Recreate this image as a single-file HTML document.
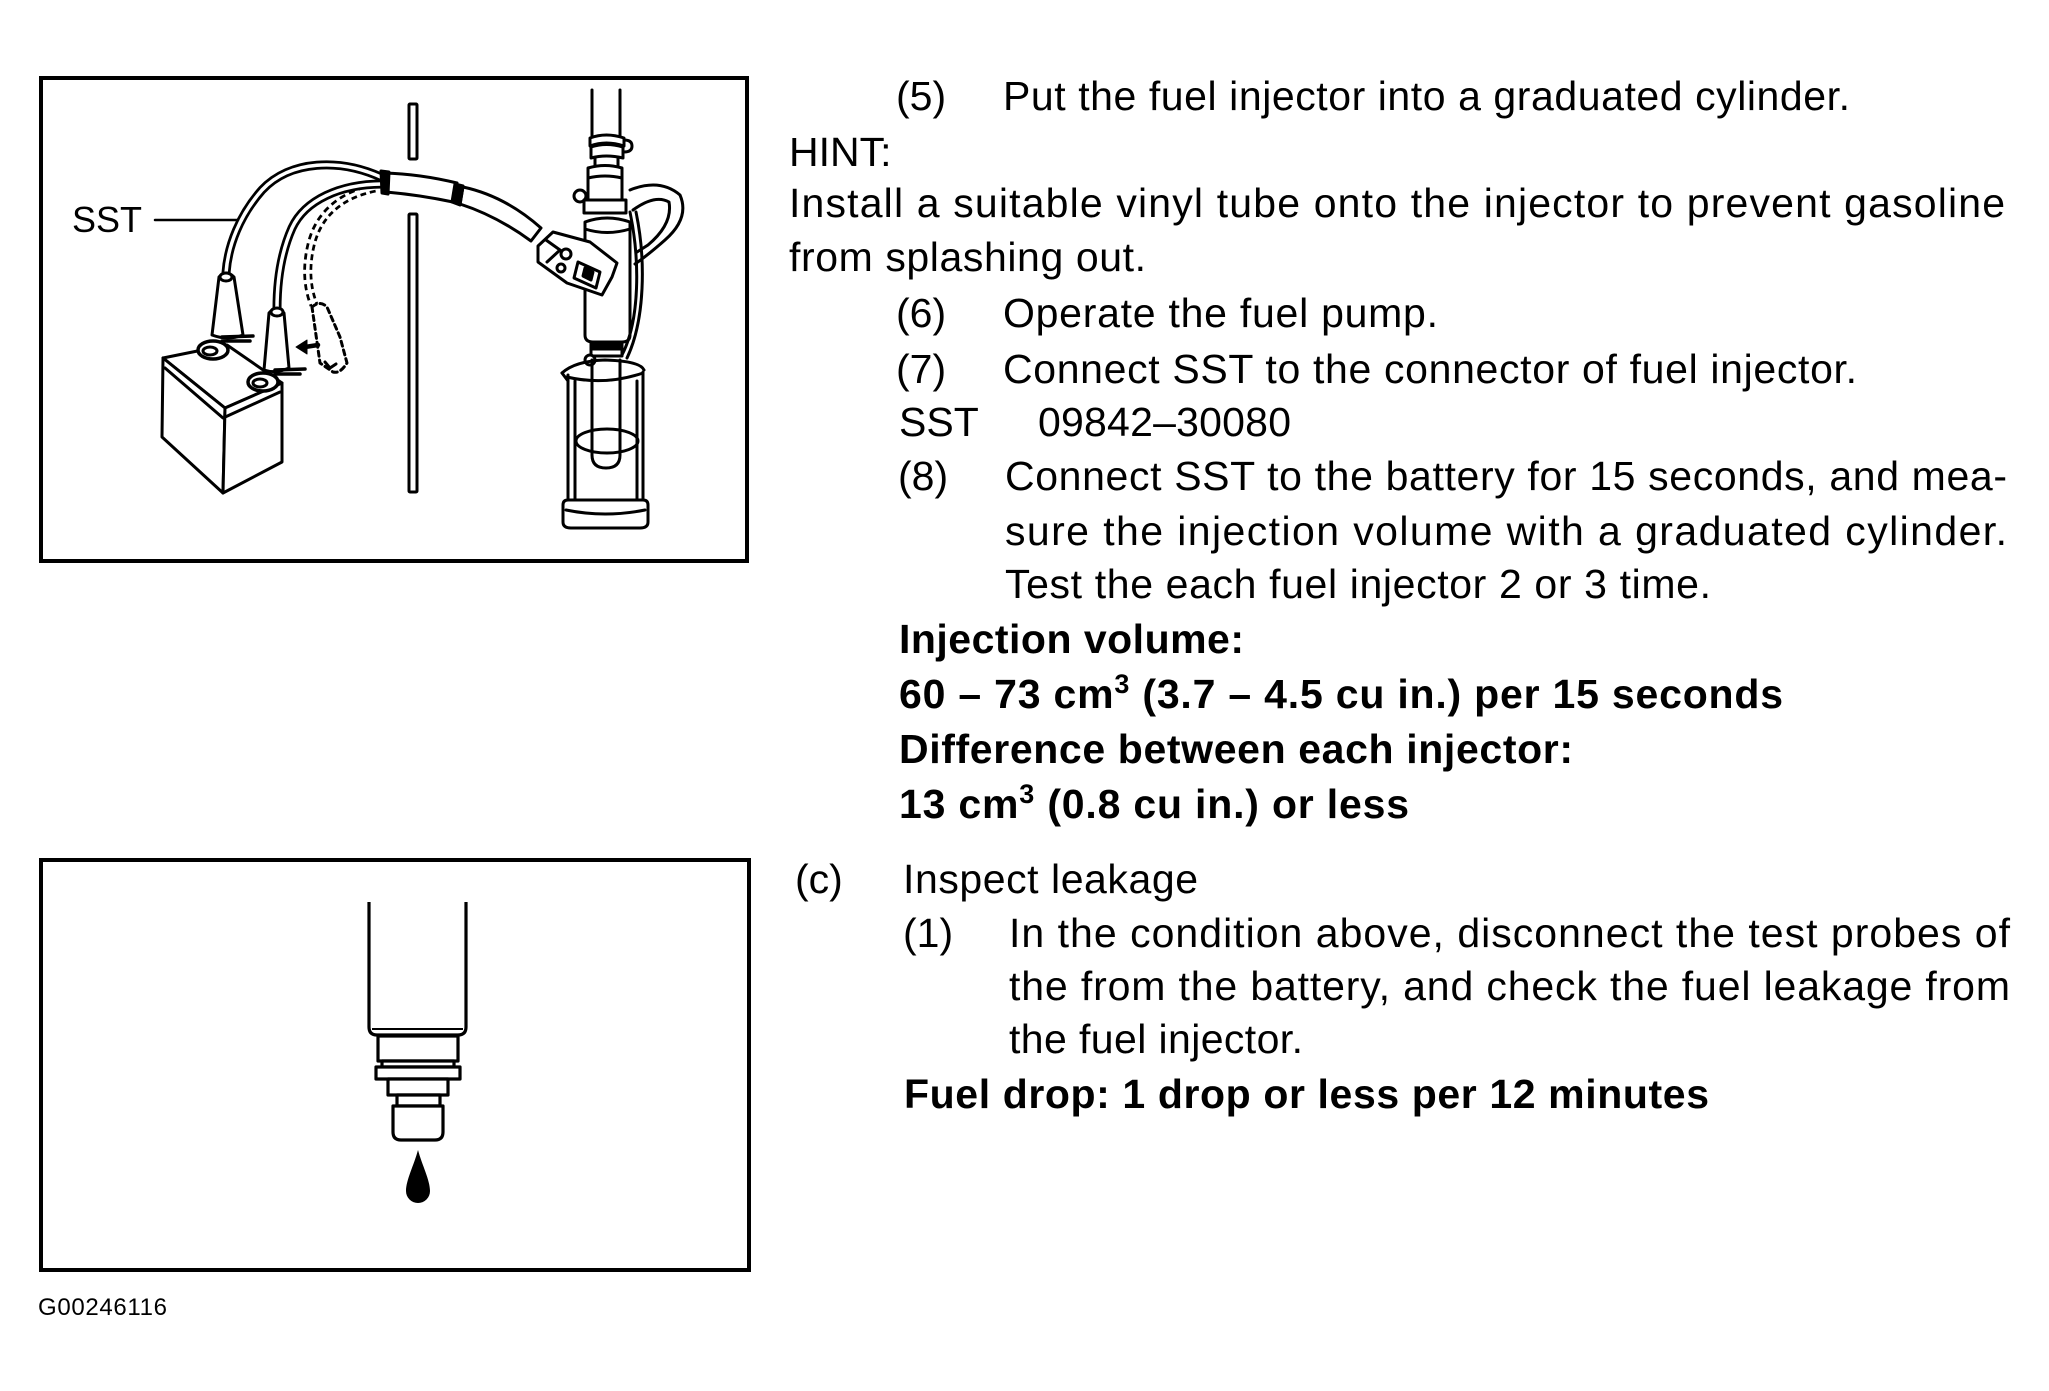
<!DOCTYPE html>
<html>
<head>
<meta charset="utf-8">
<style>
html,body{margin:0;padding:0;background:#fff;}
svg{display:block;}
text{font-family:"Liberation Sans",Arial,sans-serif;fill:#000;}
.t{font-size:41px;}
.b{font-size:41px;font-weight:bold;}
</style>
</head>
<body>
<svg width="2049" height="1391" viewBox="0 0 2049 1391" xmlns="http://www.w3.org/2000/svg">
<rect x="0" y="0" width="2049" height="1391" fill="#fff"/>

<!-- ===== TOP FIGURE ===== -->
<rect x="41" y="78" width="706" height="483" fill="none" stroke="#000" stroke-width="4"/>

<g fill="none" stroke="#000" stroke-width="3" stroke-linejoin="round" stroke-linecap="round">
  <!-- wall slot -->
  <rect x="409" y="104" width="8" height="55" rx="1"/>
  <rect x="409" y="214" width="8" height="278" rx="1"/>

  <!-- battery -->
  <path d="M163 358 L227 345 L282 383 L225 408 Z" fill="#fff"/>
  <path d="M163 358 L162 437 L223 493 L225 408 Z" fill="#fff"/>
  <path d="M225 408 L223 493 L282 462 L282 383 Z" fill="#fff"/>
  <path d="M165 368 L223 418 L280 392"/>

  <!-- terminal rings -->
  <ellipse cx="213" cy="350" rx="15" ry="9" fill="#fff" stroke-width="3.5"/>
  <ellipse cx="210" cy="351" rx="7" ry="4"/>
  <ellipse cx="263" cy="382" rx="15" ry="9" fill="#fff" stroke-width="3.5"/>
  <ellipse cx="260" cy="383" rx="7" ry="4"/>

  <!-- dashed cable C -->
  <path d="M375 188 C340 195 318 215 311 245 C305 270 308 290 314 305" stroke-width="9" stroke-dasharray="6 4" stroke-linecap="butt"/>
  <path d="M375 188 C340 195 318 215 311 245 C305 270 308 290 314 305" stroke="#fff" stroke-width="3.5"/>
  <!-- cable A -->
  <path d="M383 178 C340 158 290 160 262 190 C240 215 228 245 226 273" stroke-width="9"/>
  <path d="M383 178 C340 158 290 160 262 190 C240 215 228 245 226 273" stroke="#fff" stroke-width="3.5"/>
  <!-- cable B -->
  <path d="M383 184 C340 184 305 200 292 228 C280 255 277 285 277 309" stroke-width="9"/>
  <path d="M383 184 C340 184 305 200 292 228 C280 255 277 285 277 309" stroke="#fff" stroke-width="3.5"/>

  <!-- clip boots -->
  <path d="M219 277 Q226 269 234 277 L243 335 Q228 341 212 335 Z" fill="#fff"/>
  <ellipse cx="226" cy="277" rx="6" ry="4" fill="#fff"/>
  <path d="M222 337 L253 336 M222 341 L250 341" stroke-width="3.5"/>
  <path d="M269 313 Q277 304 284 313 L289 368 Q276 374 264 370 Z" fill="#fff"/>
  <ellipse cx="277" cy="312" rx="6" ry="4" fill="#fff"/>
  <path d="M275 370 L305 369 M275 374 L300 374" stroke-width="3.5"/>
  <path d="M312 307 Q320 300 327 307 L340 337 L347 363 Q340 374 333 372 L320 363 Z" stroke-dasharray="5 4"/>
  <path d="M325 362 L330 368 L336 364" />

  <!-- arrow -->
  <path d="M296 347 L307 340 L307 354 Z" fill="#000" stroke-width="1"/>
  <path d="M305 347 L318 345" stroke-width="4.5"/>

  <!-- leader -->
  <line x1="155" y1="220" x2="238" y2="220" stroke-width="2.5"/>

  <!-- sleeves -->
  <path d="M384 173 Q420 174 457 183 L453 202 Q420 195 386 192 Z" fill="#fff"/>
  <path d="M381 171 L389 172 L388 194 L382 193 Z" fill="#000"/>
  <path d="M463 187 Q505 196 541 228 L531 241 Q497 216 460 204 Z" fill="#fff"/>
  <path d="M455 184 L463 186 L460 205 L452 202 Z" fill="#000"/>

  <!-- injector body -->
  <path d="M592 90 V138 M620 90 V138"/>
  <path d="M590 138 Q606 132 624 138 L624 146 Q606 140 590 146 Z" fill="#fff"/>
  <path d="M591 147 Q606 142 623 147 L623 158 Q606 154 591 158 Z" fill="#fff"/>
  <path d="M624 140 Q632 140 632 146 Q632 152 624 152"/>
  <path d="M595 158 V167 M618 158 V167"/>
  <path d="M588 168 Q605 163 622 168 V212 H588 Z" fill="#fff"/>
  <path d="M588 178 Q605 174 622 178"/>
  <circle cx="580" cy="196" r="6" fill="#fff"/>
  <path d="M584 200 H626 V213 H584 Z" fill="#fff"/>
  <path d="M585 222 Q607 214 630 222 V335 Q630 342 622 342 H593 Q585 342 585 335 Z" fill="#fff"/>
  <path d="M585 229 Q607 236 630 229"/>
  <path d="M591 342 H622 V356 H591 Z" fill="#fff"/>
  <rect x="592" y="344" width="29" height="5" fill="#000"/>
  <circle cx="590" cy="360" r="5" fill="#fff"/>
  <!-- wire along right side -->
  <path d="M630 212 C640 260 640 320 622 355"/>
  <path d="M636 212 C646 260 645 320 627 358"/>
  <!-- handle loop -->
  <path d="M630 190 Q660 178 680 195 Q690 218 665 240 Q648 255 635 264"/>
  <path d="M633 210 Q655 194 669 202 Q673 224 648 245 L637 252"/>

  <!-- connector -->
  <path d="M538 246 L553 232 L590 242 L617 263 L612 277 L602 295 L567 283 L538 262 Z" fill="#fff"/>
  <path d="M546 240 L560 250 L547 262"/>
  <circle cx="566" cy="254" r="5"/>
  <circle cx="561" cy="268" r="4"/>
  <path d="M578 262 L600 272 L596 288 L574 278 Z"/>
  <path d="M585 268 L593 272 L591 280 L583 276 Z" fill="#000"/>

  <!-- graduated cylinder -->
  <path d="M568 375 V502 M643 372 V502"/>
  <path d="M575 381 V503 M637 381 V503"/>
  <path d="M562 373 Q575 361 605 360 Q640 361 644 370"/>
  <path d="M567 377 Q605 386 643 373"/>
  <path d="M562 373 L568 381"/>
  <ellipse cx="607" cy="441" rx="31" ry="12"/>
  <path d="M592 360 V455 Q592 468 606 468 Q620 468 620 455 V360"/>
  <path d="M563 505 Q563 500 568 500 H643 Q648 500 648 505 V522 Q648 528 640 528 H571 Q563 528 563 522 Z" fill="#fff"/>
  <path d="M566 510 Q605 518 645 510"/>
</g>

<text x="72" y="232" font-size="36" textLength="70" lengthAdjust="spacing">SST</text>

<!-- ===== BOTTOM FIGURE ===== -->
<rect x="41" y="860" width="708" height="410" fill="none" stroke="#000" stroke-width="4"/>
<g fill="#fff" stroke="#000" stroke-width="3.2" stroke-linejoin="round">
  <path d="M369 902 V1027 Q369 1035 377 1035 H458 Q466 1035 466 1027 V902" fill="none"/>
  <path d="M372 1029 H463" fill="none" stroke-width="2"/>
  <rect x="378" y="1036" width="80" height="25"/>
  <rect x="382" y="1061" width="72" height="6"/>
  <rect x="376" y="1067" width="84" height="12"/>
  <rect x="388" y="1079" width="60" height="16"/>
  <rect x="397" y="1095" width="43" height="11"/>
  <path d="M393 1106 H443 V1132 Q443 1140 435 1140 H401 Q393 1140 393 1132 Z"/>
</g>
<path d="M418 1150 C422 1165 430 1180 430 1191 A12 12 0 0 1 406 1191 C406 1180 414 1165 418 1150 Z" fill="#000"/>

<text x="38" y="1315" font-size="24" textLength="129" lengthAdjust="spacing">G00246116</text>

<!-- ===== TEXT COLUMN ===== -->
<text class="t" x="896" y="110">(5)</text>
<text class="t" x="1003" y="110" textLength="847">Put the fuel injector into a graduated cylinder.</text>

<text class="t" x="789" y="166">HINT:</text>
<text class="t" x="789" y="217" textLength="1216">Install a suitable vinyl tube onto the injector to prevent gasoline</text>
<text class="t" x="789" y="271" textLength="357">from splashing out.</text>

<text class="t" x="896" y="327">(6)</text>
<text class="t" x="1003" y="327" textLength="435">Operate the fuel pump.</text>

<text class="t" x="896" y="383">(7)</text>
<text class="t" x="1003" y="383" textLength="854">Connect SST to the connector of fuel injector.</text>

<text class="t" x="899" y="436">SST</text>
<text class="t" x="1038" y="436" textLength="253">09842–30080</text>

<text class="t" x="898" y="490">(8)</text>
<text class="t" x="1005" y="490" textLength="1002">Connect SST to the battery for 15 seconds, and mea-</text>
<text class="t" x="1005" y="545" textLength="1002">sure the injection volume with a graduated cylinder.</text>
<text class="t" x="1005" y="598" textLength="706">Test the each fuel injector 2 or 3 time.</text>

<text class="b" x="899" y="653" textLength="345">Injection volume:</text>
<text class="b" x="899" y="708" textLength="884">60 – 73 cm<tspan font-size="27" dy="-15">3</tspan><tspan dy="15"> (3.7 – 4.5 cu in.) per 15 seconds</tspan></text>
<text class="b" x="899" y="763" textLength="674">Difference between each injector:</text>
<text class="b" x="899" y="818" textLength="510">13 cm<tspan font-size="27" dy="-15">3</tspan><tspan dy="15"> (0.8 cu in.) or less</tspan></text>

<text class="t" x="795" y="893">(c)</text>
<text class="t" x="903" y="893" textLength="295">Inspect leakage</text>
<text class="t" x="903" y="947">(1)</text>
<text class="t" x="1009" y="947" textLength="1001">In the condition above, disconnect the test probes of</text>
<text class="t" x="1009" y="1000" textLength="1001">the from the battery, and check the fuel leakage from</text>
<text class="t" x="1009" y="1053" textLength="294">the fuel injector.</text>
<text class="b" x="904" y="1108" textLength="805">Fuel drop: 1 drop or less per 12 minutes</text>
</svg>
</body>
</html>
